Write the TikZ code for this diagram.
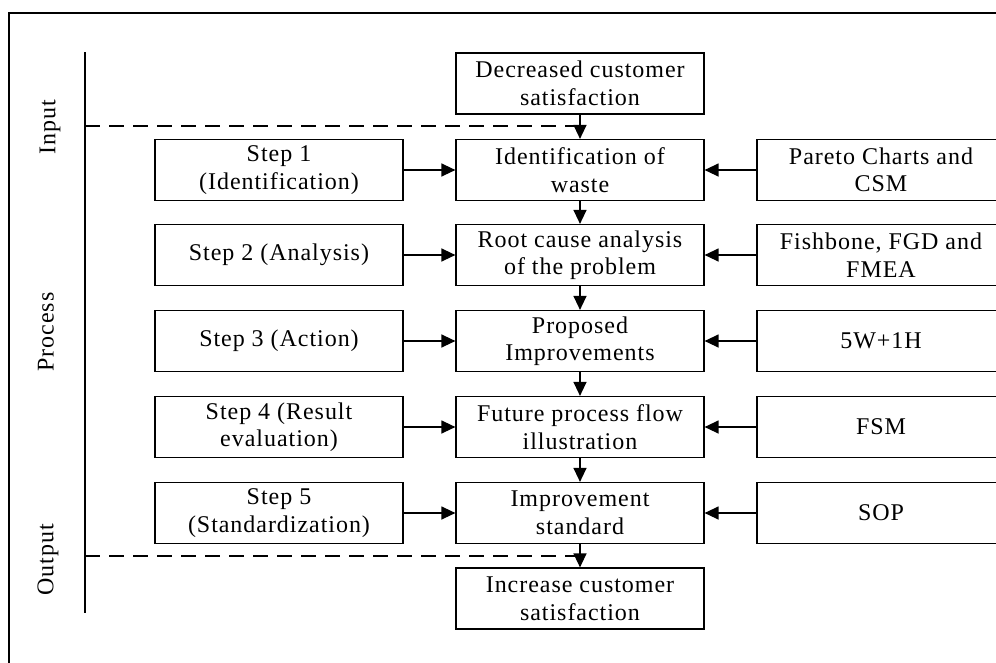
\documentclass[tikz,border=0pt]{standalone}
\usepackage{fontspec}
\setmainfont{Liberation Serif}[LetterSpace=4]
\usetikzlibrary{arrows.meta}

\begin{document}
\begin{tikzpicture}[x=1pt,y=-1pt,
        box/.style = {draw, line width=1.2pt, align=center,
            minimum width=248pt, minimum height=61pt, inner sep=0pt,
            font=\fontsize{24}{27.5}\selectfont},
        side/.style = {rotate=90, font=\fontsize{24}{27}\selectfont},
        flow/.style = {line width=1.3pt, -{Triangle[length=14pt,width=13pt]}}]
        \clip (0,0) rectangle (996,662);
        \draw[line width=2pt] (9,700) -- (9,13) -- (1010,13);
        \draw[line width=2pt] (85,52) -- (85,613);
        \node[side] (in) at (50,127) {Input};
        \node[side] (pr) at (46,332) {Process};
        \node[side] (out) at (48,560) {Output};
        % middle column
        \node[box] (dec) at (580,83.5) {Decreased customer\\satisfaction};
        \node[box] (c1) at (580,170) {Identification of\\waste};
        \node[box] (c2) at (580,255) {Root cause analysis\\of the problem};
        \node[box] (c3) at (580,341) {Proposed\\Improvements};
        \node[box] (c4) at (580,427) {Future process flow\\illustration};
        \node[box] (c5) at (580,513) {Improvement\\standard};
        \node[box] (inc) at (580,598.5) {Increase customer\\satisfaction};
        % steps
        \node[box] (s1) at (279,170) {Step 1\\(Identification)};
        \node[box] (s2) at (279,255) {Step 2 (Analysis)};
        \node[box] (s3) at (279,341) {Step 3 (Action)};
        \node[box] (s4) at (279,427) {Step 4 (Result\\evaluation)};
        \node[box] (s5) at (279,513) {Step 5\\(Standardization)};
        % tools
        \node[box] (t1) at (881,170) {Pareto Charts and\\CSM};
        \node[box] (t2) at (881,255) {Fishbone, FGD and\\FMEA};
        \node[box] (t3) at (881,341) {5W+1H};
        \node[box] (t4) at (881,427) {FSM};
        \node[box] (t5) at (881,513) {SOP};
        \coordinate (din) at (580,126);
        \coordinate (dout) at (580,556);
        \draw[line width=1.2pt, dash pattern=on 15pt off 9pt] (85,126) -- (din);
        \draw[line width=1.2pt, dash pattern=on 15pt off 9pt] (85,556) -- (dout);
        \draw[flow] (dec) -- (c1);
        \draw[flow] (c1) -- (c2);
        \draw[flow] (c2) -- (c3);
        \draw[flow] (c3) -- (c4);
        \draw[flow] (c4) -- (c5);
        \draw[flow] (c5) -- (inc);
        \foreach \i in {1,...,5} {
            \draw[flow] (s\i) -- (c\i);
            \draw[flow] (t\i) -- (c\i);
        }
\end{tikzpicture}
\end{document}
